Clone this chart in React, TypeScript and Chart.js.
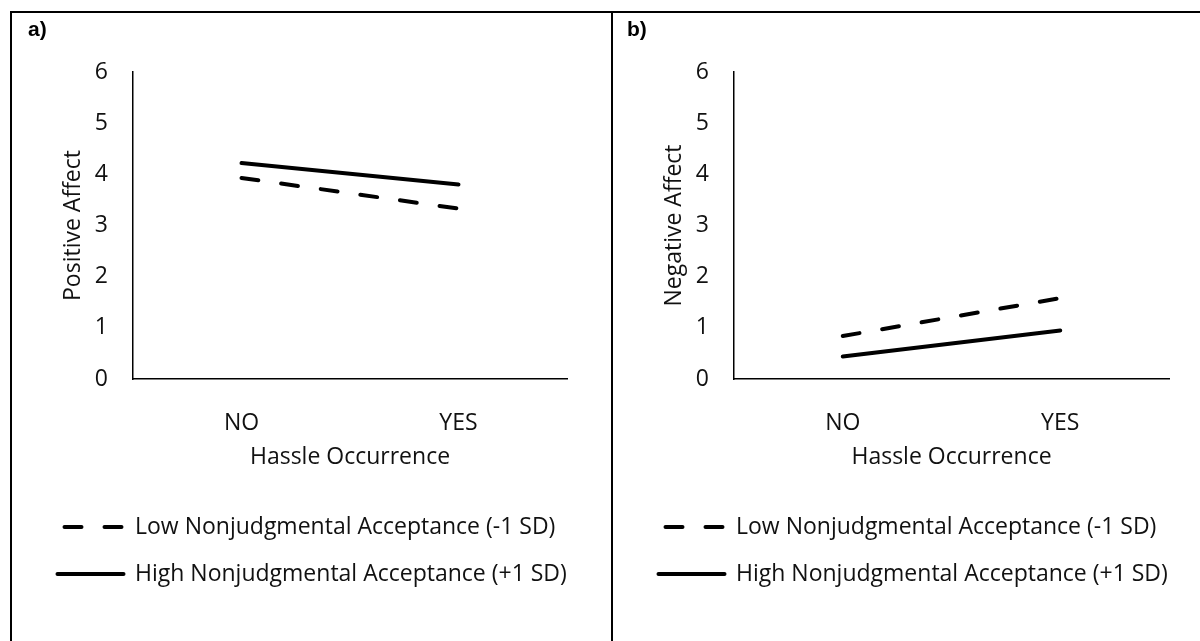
import React, { useEffect, useRef } from "react";
import { Chart, registerables } from "chart.js";

Chart.register(...registerables);

// ---------- data ----------
const categories = ["NO", "YES"];
const seriesLabels = [
  "Low Nonjudgmental Acceptance (-1 SD)",
  "High Nonjudgmental Acceptance (+1 SD)",
];
const positiveLow = [3.93, 3.33];
const positiveHigh = [4.22, 3.8];
const negativeLow = [0.84, 1.58];
const negativeHigh = [0.44, 0.95];
const yMin = 0;
const yMax = 6;
const yStep = 1;
const xTitle = "Hassle Occurrence";
const yTitleA = "Positive Affect";
const yTitleB = "Negative Affect";
const panelLabels = ["a)", "b)"];

// ---------- style ----------
const FONT = "'Open Sans'";
const FS = 23;
const TEXT = "#111";
const LEG_PAD = 24;
const DASH = [17, 23];

type PanelProps = {
  low: number[];
  high: number[];
  yTitle: string;
  width: number;
  rightPad: number;
};

function Panel({ low, high, yTitle, width, rightPad }: PanelProps) {
  const ref = useRef<HTMLCanvasElement | null>(null);
  useEffect(() => {
    if (!ref.current) return;
    const font = { family: FONT, size: FS };
    const chart = new Chart(ref.current, {
      type: "line",
      data: {
        labels: categories,
        datasets: [
          {
            label: seriesLabels[0],
            data: low,
            borderColor: "#000",
            backgroundColor: "#000",
            borderWidth: 4,
            borderDash: DASH,
            borderCapStyle: "round",
            pointRadius: 0,
            tension: 0,
          },
          {
            label: seriesLabels[1],
            data: high,
            borderColor: "#000",
            backgroundColor: "#000",
            borderWidth: 4,
            borderCapStyle: "round",
            pointRadius: 0,
            tension: 0,
          },
        ],
      },
      options: {
        animation: false,
        responsive: false,
        maintainAspectRatio: false,
        events: [],
        layout: { padding: { top: 59, left: 21.5, right: rightPad, bottom: 45.5 } },
        plugins: {
          tooltip: { enabled: false },
          legend: {
            display: true,
            position: "bottom",
            align: "start",
            labels: {
              usePointStyle: true,
              pointStyle: "line",
              pointStyleWidth: 66,
              padding: LEG_PAD,
              color: TEXT,
              font,
              generateLabels: (c: any) => {
                const items = (Chart.defaults as any).plugins.legend.labels.generateLabels(c);
                return items.map((it: any, i: number) => {
                  const ds: any = c.data.datasets[i];
                  return {
                    ...it,
                    pointStyle: "line",
                    lineWidth: 4,
                    lineCap: "round",
                    strokeStyle: "#000",
                    fillStyle: "#000",
                    lineDash: ds.borderDash || [],
                    lineDashOffset: ds.borderDash ? 33 : 0,
                  };
                });
              },
            },
          },
        },
        scales: {
          x: {
            type: "category",
            offset: true,
            grid: { display: false, drawTicks: false },
            border: { display: true, color: "#000", width: 1.5 },
            ticks: { padding: 30.2, color: TEXT, font },
            title: {
              display: true,
              text: xTitle,
              color: TEXT,
              font,
              padding: { top: 0, bottom: 20.7 },
            },
            afterFit: (s: any) => {
              s.height = 112.5;
            },
          },
          y: {
            min: yMin,
            max: yMax,
            grid: { display: false, drawTicks: false },
            border: { display: true, color: "#000", width: 1.5 },
            ticks: { stepSize: yStep, padding: 25, color: TEXT, font },
            title: {
              display: true,
              text: yTitle,
              color: TEXT,
              font,
              padding: { top: 25.7, bottom: 0 },
            },
            afterFit: (s: any) => {
              s.width = 99.5;
            },
          },
        },
      },
    } as any);
    return () => chart.destroy();
  }, [low, high, yTitle, width, rightPad]);
  return (
    <canvas
      ref={ref}
      width={width}
      height={628}
      style={{ width: width + "px", height: "628px", display: "block" }}
    />
  );
}

export default function App() {
  const line = (s: React.CSSProperties): React.CSSProperties => ({
    position: "absolute",
    background: "#000",
    ...s,
  });
  const lab: React.CSSProperties = {
    position: "absolute",
    fontFamily: "'Liberation Sans', Arial, sans-serif",
    fontWeight: "bold",
    fontSize: "21px",
    lineHeight: "21px",
    color: "#000",
  };
  return (
    <div
      style={{
        position: "absolute",
        left: 0,
        top: 0,
        width: 1200,
        height: 641,
        background: "#fff",
        overflow: "hidden",
      }}
    >
      <div style={{ position: "absolute", left: 12, top: 13 }}>
        <Panel low={positiveLow} high={positiveHigh} yTitle={yTitleA} width={599} rightPad={44} />
      </div>
      <div style={{ position: "absolute", left: 613, top: 13 }}>
        <Panel low={negativeLow} high={negativeHigh} yTitle={yTitleB} width={587} rightPad={31} />
      </div>
      <div style={line({ left: 10, top: 11, width: 1190, height: 2 })} />
      <div style={line({ left: 10, top: 11, width: 2, height: 630 })} />
      <div style={line({ left: 611, top: 11, width: 2, height: 630 })} />
      <div style={{ ...lab, left: 28, top: 18 }}>{panelLabels[0]}</div>
      <div style={{ ...lab, left: 627, top: 18 }}>{panelLabels[1]}</div>
    </div>
  );
}
